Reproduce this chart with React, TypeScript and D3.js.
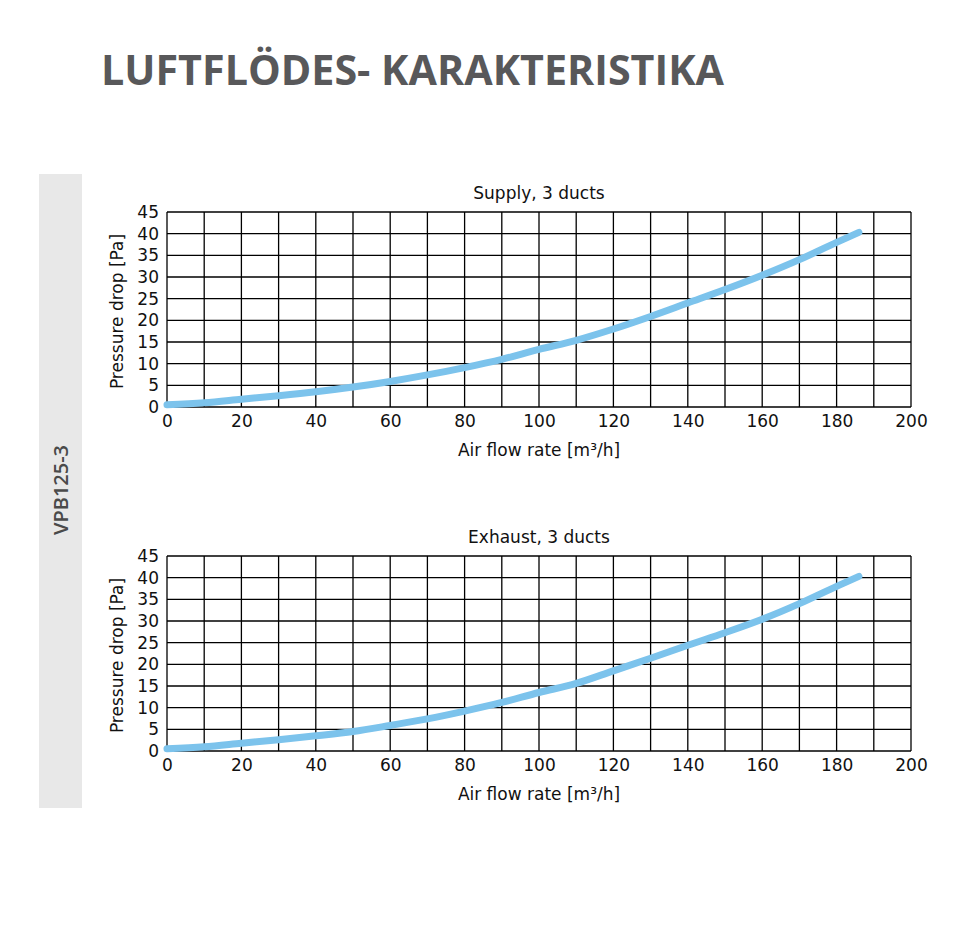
import { useEffect, useRef } from 'react';
import * as d3 from 'd3';

const FLOW = [0, 10, 20, 30, 40, 50, 60, 70, 80, 90, 100, 110, 120, 130, 140, 150, 160, 170, 180, 186];
const SUPPLY_PA = [0.5, 1.0, 1.8, 2.6, 3.5, 4.6, 5.9, 7.4, 9.1, 11.0, 13.3, 15.4, 18.0, 20.9, 24.0, 27.1, 30.4, 34.0, 38.0, 40.3];
const EXHAUST_PA = [0.5, 1.0, 1.8, 2.6, 3.5, 4.5, 5.9, 7.4, 9.2, 11.2, 13.5, 15.6, 18.5, 21.4, 24.4, 27.3, 30.4, 34.0, 38.0, 40.3];
const X_TICKS = [0, 20, 40, 60, 80, 100, 120, 140, 160, 180, 200];
const Y_TICKS = [0, 5, 10, 15, 20, 25, 30, 35, 40, 45];

const CHARTS = [
  { title: 'Supply, 3 ducts', values: SUPPLY_PA, top: 212 },
  { title: 'Exhaust, 3 ducts', values: EXHAUST_PA, top: 556 },
];

const FONT = '"DejaVu Sans", sans-serif';

export default function App() {
  const svgRef = useRef<SVGSVGElement>(null);

  useEffect(() => {
    const svg = d3.select(svgRef.current);
    svg.selectAll('*').remove();

    svg.append('rect').attr('width', 976).attr('height', 926).attr('fill', '#fff');

    svg.append('text')
      .attr('x', 101)
      .attr('y', 85)
      .attr('fill', '#58585a')
      .attr('font-family', '"Open Sans", sans-serif')
      .attr('font-weight', 700)
      .attr('font-size', 41)
      .attr('textLength', 623)
      .attr('lengthAdjust', 'spacingAndGlyphs')
      .text('LUFTFLÖDES- KARAKTERISTIKA');

    // side band
    svg.append('rect')
      .attr('x', 39).attr('y', 174).attr('width', 43).attr('height', 634)
      .attr('fill', '#e8e8e8');
    svg.append('text')
      .attr('transform', 'translate(68,490) rotate(-90)')
      .attr('text-anchor', 'middle')
      .attr('fill', '#4a4a4a')
      .attr('font-family', '"Open Sans", sans-serif')
      .attr('font-weight', 600)
      .attr('font-size', 20)
      .attr('textLength', 90)
      .attr('lengthAdjust', 'spacingAndGlyphs')
      .text('VPB125-3');

    const left = 167;
    const right = 911;
    const h = 195;

    CHARTS.forEach((c) => {
      const x = d3.scaleLinear().domain([0, 200]).range([left, right]);
      const y = d3.scaleLinear().domain([0, 45]).range([c.top + h, c.top]);
      const g = svg.append('g');

      g.selectAll('line.v')
        .data(d3.range(0, 201, 10))
        .join('line')
        .attr('x1', (d) => x(d)).attr('x2', (d) => x(d))
        .attr('y1', y(0)).attr('y2', y(45))
        .attr('stroke', '#000').attr('stroke-width', 1.3);

      g.selectAll('line.h')
        .data(Y_TICKS)
        .join('line')
        .attr('x1', x(0)).attr('x2', x(200))
        .attr('y1', (d) => y(d)).attr('y2', (d) => y(d))
        .attr('stroke', '#000').attr('stroke-width', 1.3);

      g.append('g')
        .attr('transform', `translate(0,${y(0)})`)
        .call(d3.axisBottom(x).tickValues(X_TICKS).tickSize(0).tickPadding(8))
        .call((s) => s.select('.domain').remove())
        .call((s) => s.selectAll('text')
          .attr('fill', '#111').attr('font-size', 17).attr('font-family', FONT));

      g.append('g')
        .attr('transform', `translate(${x(0)},0)`)
        .call(d3.axisLeft(y).tickValues(Y_TICKS).tickSize(0).tickPadding(8))
        .call((s) => s.select('.domain').remove())
        .call((s) => s.selectAll('text')
          .attr('fill', '#111').attr('font-size', 17).attr('font-family', FONT));

      const line = d3.line<number>()
        .x((_, i) => x(FLOW[i]))
        .y((d) => y(d))
        .curve(d3.curveMonotoneX);

      g.append('path')
        .datum(c.values)
        .attr('d', line)
        .attr('fill', 'none')
        .attr('stroke', '#7cc3ec')
        .attr('stroke-width', 7)
        .attr('stroke-linecap', 'round');

      g.append('text')
        .attr('x', (left + right) / 2)
        .attr('y', c.top - 13)
        .attr('text-anchor', 'middle')
        .attr('fill', '#111')
        .attr('font-family', FONT)
        .attr('font-size', 17)
        .text(c.title);

      g.append('text')
        .attr('x', (left + right) / 2)
        .attr('y', y(0) + 49)
        .attr('text-anchor', 'middle')
        .attr('fill', '#111')
        .attr('font-family', FONT)
        .attr('font-size', 17)
        .text('Air flow rate [m³/h]');

      g.append('text')
        .attr('transform', `translate(123,${c.top + h / 2 + 2}) rotate(-90)`)
        .attr('text-anchor', 'middle')
        .attr('fill', '#111')
        .attr('font-family', FONT)
        .attr('font-size', 17)
        .text('Pressure drop [Pa]');
    });
  }, []);

  return (
    <svg
      ref={svgRef}
      width={976}
      height={926}
      style={{ position: 'absolute', left: 0, top: 0 }}
    />
  );
}
